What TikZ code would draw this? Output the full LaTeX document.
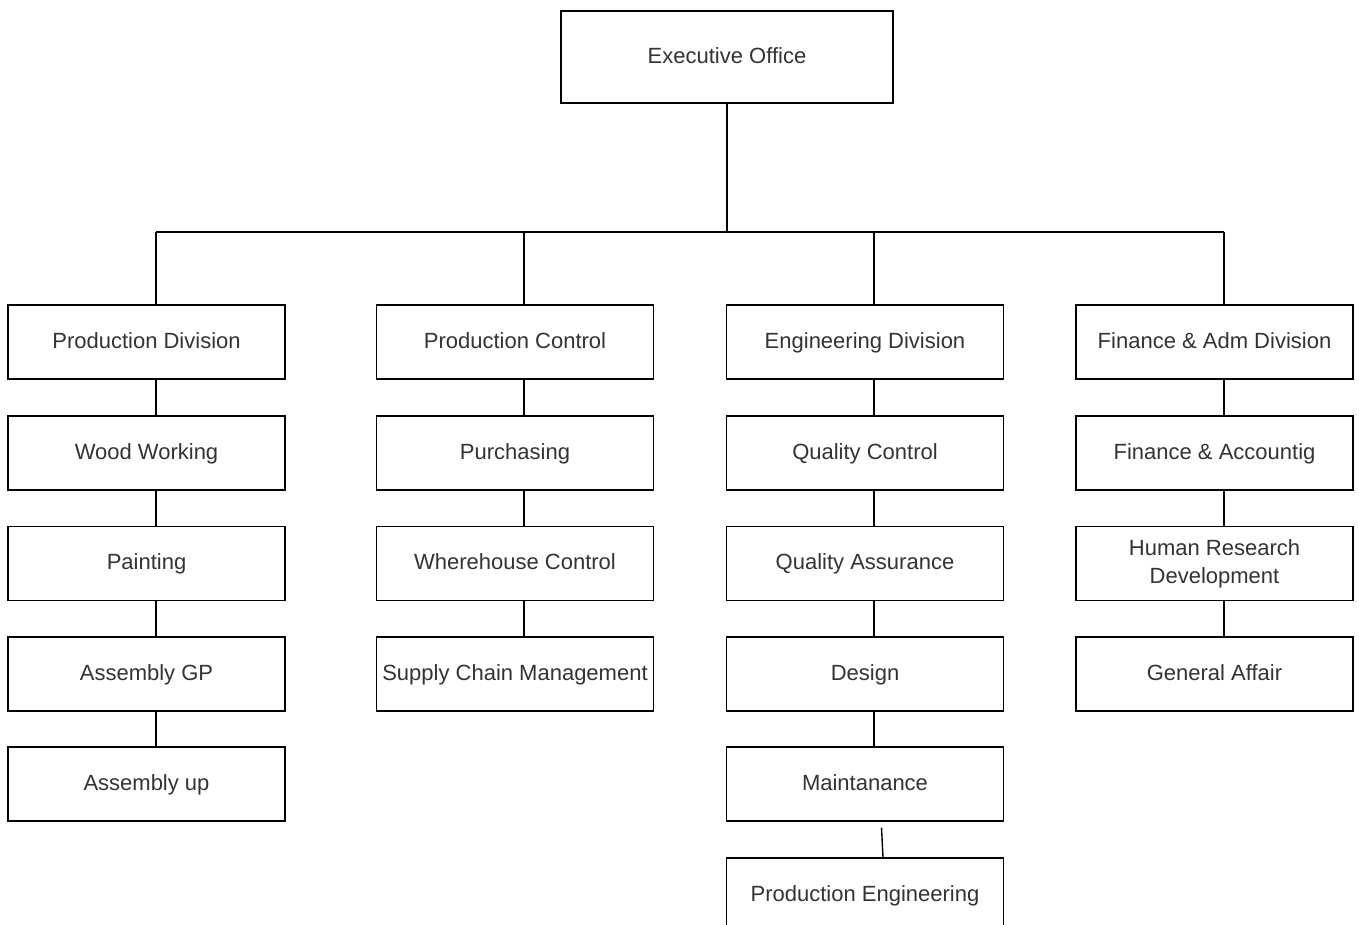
\documentclass[tikz,border=0pt]{standalone}
\usepackage{fontspec}
\setmainfont{Liberation Sans}
\usetikzlibrary{calc}
\definecolor{textgray}{HTML}{333333}
\begin{document}
\begin{tikzpicture}[x=0.5pt,y=-0.5pt,
  basebox/.style={draw=black, line width=0.7pt, minimum width=138.5pt, minimum height=37pt,
    inner sep=0pt, align=center, text=textgray, font=\fontsize{11}{14}\selectfont},
  orgbox/.style={basebox, text height=8.2pt, text depth=2pt},
  topbox/.style={orgbox, minimum width=166pt, minimum height=46pt},
  link/.style={draw=black, line width=0.7pt}]
\clip (0,0) rectangle (1359,925);
\fill[white] (0,0) rectangle (1359,925);

% top
\node[topbox] (exec) at (727,57) {Executive Office};

% column 1
\node[orgbox] (pd) at (146.5,342) {Production Division};
\node[orgbox] (ww) at (146.5,453) {Wood Working};
\node[orgbox] (pt) at (146.5,563.5) {Painting};
\node[orgbox] (ag) at (146.5,674) {Assembly GP};
\node[orgbox] (au) at (146.5,784) {Assembly up};

% column 2
\node[orgbox] (pc) at (515,342) {Production Control};
\node[orgbox] (pu) at (515,453) {Purchasing};
\node[orgbox] (wc) at (515,563.5) {Wherehouse Control};
\node[orgbox] (sc) at (515,674) {Supply Chain Management};

% column 3
\node[orgbox] (ed) at (865,342) {Engineering Division};
\node[orgbox] (qc) at (865,453) {Quality Control};
\node[orgbox] (qa) at (865,563.5) {Quality Assurance};
\node[orgbox] (ds) at (865,674) {Design};
\node[orgbox] (mt) at (865,784) {Maintanance};
\node[orgbox] (pe) at (865,895) {Production Engineering};

% column 4
\node[orgbox] (fd) at (1214.5,342) {Finance \& Adm Division};
\node[orgbox] (fa) at (1214.5,453) {Finance \& Accountig};
\node[basebox] (hr) at (1214.5,563.5) {Human Research\\Development};
\node[orgbox] (ga) at (1214.5,674) {General Affair};

% bus line
\coordinate (b1) at (156,232);
\coordinate (b2) at (524,232);
\coordinate (b3) at (874,232);
\coordinate (b4) at (1224,232);
\draw[link] (exec.south) -- (exec.south |- b1);
\draw[link] (b1) -- (b4);
\draw[link] (b1) -- (pd.north -| b1);
\draw[link] (b2) -- (pc.north -| b2);
\draw[link] (b3) -- (ed.north -| b3);
\draw[link] (b4) -- (fd.north -| b4);

% column links
\draw[link] (pd.south -| b1) -- (ww.north -| b1);
\draw[link] (ww.south -| b1) -- (pt.north -| b1);
\draw[link] (pt.south -| b1) -- (ag.north -| b1);
\draw[link] (ag.south -| b1) -- (au.north -| b1);

\draw[link] (pc.south -| b2) -- (pu.north -| b2);
\draw[link] (pu.south -| b2) -- (wc.north -| b2);
\draw[link] (wc.south -| b2) -- (sc.north -| b2);

\draw[link] (ed.south -| b3) -- (qc.north -| b3);
\draw[link] (qc.south -| b3) -- (qa.north -| b3);
\draw[link] (qa.south -| b3) -- (ds.north -| b3);
\draw[link] (ds.south -| b3) -- (mt.north -| b3);
\draw[link] ($(mt.south)+(16.5,6)$) -- ($(pe.north)+(18,0)$);

\draw[link] (fd.south -| b4) -- (fa.north -| b4);
\draw[link] (fa.south -| b4) -- (hr.north -| b4);
\draw[link] (hr.south -| b4) -- (ga.north -| b4);
\end{tikzpicture}
\end{document}
